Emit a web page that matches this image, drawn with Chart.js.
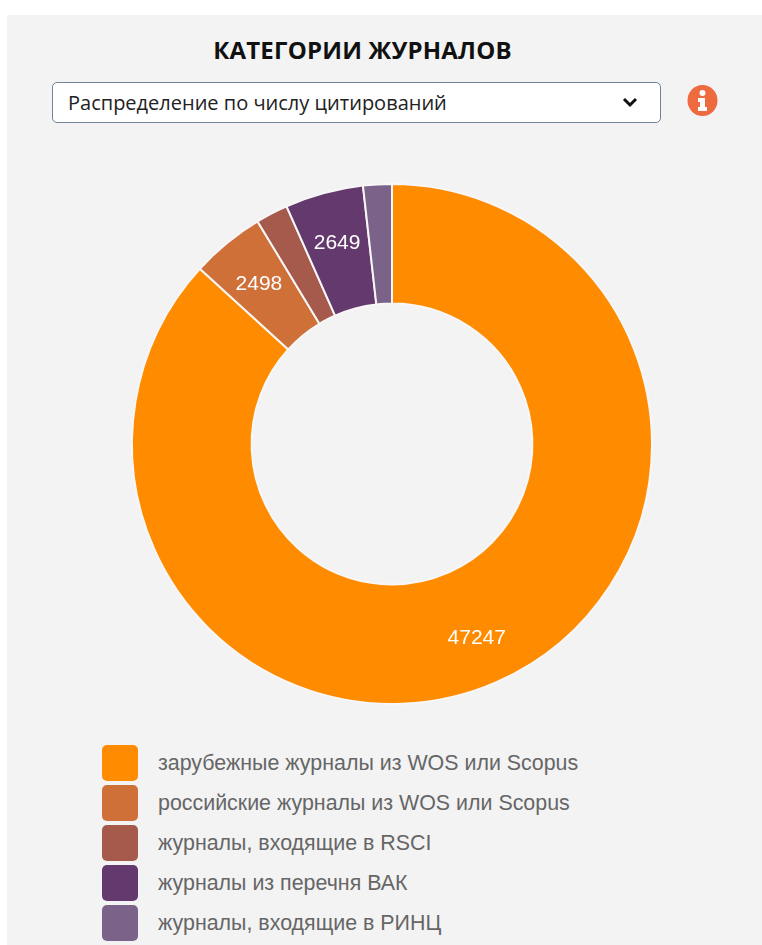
<!DOCTYPE html>
<html lang="ru">
<head>
<meta charset="utf-8">
<title>Категории журналов</title>
<script src="https://cdn.jsdelivr.net/npm/chart.js@4"></script>
<style>
    html, body { margin: 0; padding: 0; background: #fff; }
    body { width: 762px; height: 945px; overflow: hidden; position: relative; }
    .panel { position: absolute; left: 7px; top: 15px; width: 755px; height: 930px; background: #f3f3f4; }
    h1 {
        position: absolute; left: 7px; top: 36px; width: 711px; margin: 0; text-align: center;
        font: bold 24px "Open Sans", sans-serif; color: #111; line-height: 28px; letter-spacing: 0.2px;
    }
    .select-box {
        position: absolute; left: 52px; top: 82px; width: 609px; height: 41px; box-sizing: border-box;
        border: 1px solid #71849c; border-radius: 5px; background: #fff; color: #222;
        font: 20px "Open Sans", sans-serif; padding: 0 0 0 15px; appearance: none; -webkit-appearance: none; outline: none;
    }
    .chevron { position: absolute; left: 622px; top: 96px; }
    .info { position: absolute; left: 687px; top: 85px; }
    #chartWrap { position: absolute; left: 121px; top: 173px; width: 542px; height: 542px; }
    #legend { position: absolute; left: 102px; top: 743px; }
    .legend-row { display: flex; align-items: center; height: 40px; }
    .legend-swatch { width: 36px; height: 36px; border-radius: 5px; margin-right: 20px; }
    .legend-label { font: 21.4px "Liberation Sans", Arial, sans-serif; color: #666; }
</style>
</head>
<body>
<div class="panel"></div>
<h1>КАТЕГОРИИ ЖУРНАЛОВ</h1>
<select class="select-box"><option>Распределение по числу цитирований</option></select>
<svg class="chevron" width="16" height="12" viewBox="0 0 16 12">
    <path d="M2 3 L8 9 L14 3" fill="none" stroke="#111" stroke-width="3"/>
</svg>
<svg class="info" width="31" height="31" viewBox="0 0 31 31">
    <ellipse cx="15.5" cy="15.5" rx="15" ry="15.5" fill="#ee6a3f"/>
    <circle cx="15.5" cy="8" r="3" fill="#fff"/>
    <path d="M11 13 H18 V22 H20 V26 H11 V22 H13 V17 H11 Z" fill="#fff"/>
</svg>
<div id="chartWrap"><canvas id="journalChart"></canvas></div>
<div id="legend"></div>

<script>
document.addEventListener('DOMContentLoaded', function() {
    // ── Data ──
    const categories = [
        'зарубежные журналы из WOS или Scopus',
        'российские журналы из WOS или Scopus',
        'журналы, входящие в RSCI',
        'журналы из перечня ВАК',
        'журналы, входящие в РИНЦ'
    ];
    const citations = [47247, 2498, 1090, 2649, 970];
    const colors = ['#ff8c00', '#cf7038', '#a55a4c', '#643a6e', '#7a6288'];
    const minLabelValue = 2000;  // smaller slices have no number on them

    // ── Slice numbers ──
    const sliceLabels = {
        id: 'sliceLabels',
        afterDatasetsDraw(chart) {
            const ctx = chart.ctx;
            const arcs = chart.getDatasetMeta(0).data;
            ctx.save();
            ctx.font = '21px "Liberation Sans", Arial, sans-serif';
            ctx.fillStyle = '#fff';
            ctx.textAlign = 'center';
            ctx.textBaseline = 'middle';
            arcs.forEach((arc, i) => {
                if (citations[i] < minLabelValue) return;
                const p = arc.getProps(['x', 'y', 'startAngle', 'endAngle', 'innerRadius', 'outerRadius']);
                const mid = (p.startAngle + p.endAngle) / 2;
                const r = p.innerRadius + (p.outerRadius - p.innerRadius) * 0.58;
                ctx.fillText(citations[i], p.x + Math.cos(mid) * r, p.y + Math.sin(mid) * r + 2);
            });
            ctx.restore();
        }
    };

    // ── Chart ──
    new Chart(document.getElementById('journalChart'), {
        type: 'doughnut',
        data: {
            labels: categories,
            datasets: [{
                data: citations,
                backgroundColor: colors,
                borderColor: '#f8f6f6',
                borderWidth: 2
            }]
        },
        options: {
            responsive: true,
            maintainAspectRatio: false,
            animation: false,
            cutout: '54%',
            layout: { padding: 10 },
            plugins: { legend: { display: false }, tooltip: { enabled: true } }
        },
        plugins: [sliceLabels]
    });

    // ── Legend ──
    const legend = document.getElementById('legend');
    categories.forEach((name, i) => {
        const row = document.createElement('div');
        row.className = 'legend-row';
        const swatch = document.createElement('div');
        swatch.className = 'legend-swatch';
        swatch.style.background = colors[i];
        const label = document.createElement('div');
        label.className = 'legend-label';
        label.textContent = name;
        row.append(swatch, label);
        legend.appendChild(row);
    });
});
</script>
</body>
</html>
